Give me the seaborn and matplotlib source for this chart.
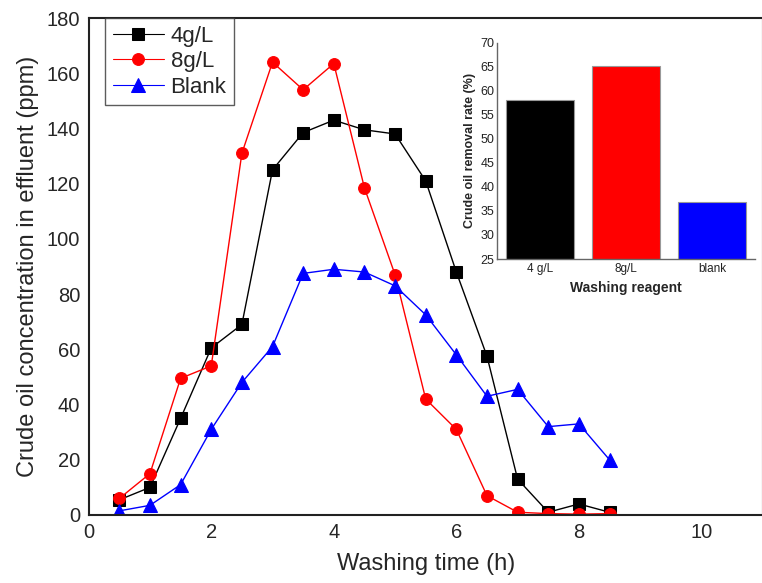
import numpy as np
import pandas as pd
import matplotlib
matplotlib.use("Agg")
import matplotlib.pyplot as plt
import seaborn as sns

# ---- data ----
time_h = [0.5, 1, 1.5, 2, 2.5, 3, 3.5, 4, 4.5, 5, 5.5, 6, 6.5, 7, 7.5, 8, 8.5]
conc_4gL = [5.5, 10, 35, 60.5, 69, 125, 138.5, 143, 139.5, 138, 121, 88, 57.5, 13, 1, 4, 1]
conc_8gL = [6, 15, 49.5, 54, 131, 164, 154, 163.5, 118.5, 87, 42, 31, 7, 1, 0.5, 0.3, 0.5]
conc_blank = [1.5, 3.5, 11, 31, 48, 61, 87.5, 89, 88, 83, 72.5, 58, 43, 45.5, 32, 33, 20]
series_names = ["4g/L", "8g/L", "Blank"]

reagents = ["4 g/L", "8g/L", "blank"]
removal_rate = [58.0, 65.2, 36.8]

sns.set_theme(style="white")
plt.rcParams['font.family'] = ['Liberation Sans', 'DejaVu Sans']

fig = plt.figure(figsize=(7.62, 5.83), dpi=100)
W, H = 762, 583
ax = fig.add_axes([88.7 / W, (H - 515) / H, 674 / W, 497 / H])

colors = ["black", "red", "blue"]
markers = ["s", "o", "^"]
msizes = [8, 8.5, 10]
for name, vals, c, m, ms in zip(series_names, [conc_4gL, conc_8gL, conc_blank], colors, markers, msizes):
    df = pd.DataFrame({"t": time_h, "c": vals})
    sns.lineplot(data=df, x="t", y="c", ax=ax, color=c, marker=m, markersize=ms,
                 markeredgecolor=c, linewidth=1.0, label=name)

ax.set_xlim(0, 11)
ax.set_ylim(0, 180)
ax.set_xticks([0, 2, 4, 6, 8, 10])
ax.set_yticks(np.arange(0, 181, 20))
ax.tick_params(axis="both", labelsize=14.5, length=0, pad=6)
ax.set_xlabel("Washing time (h)", fontsize=17, labelpad=8)
ax.set_ylabel("Crude oil concentration in effluent (ppm)", fontsize=17, labelpad=6)
for s in ax.spines.values():
    s.set_color("#222222")
    s.set_linewidth(1.5)

leg = ax.legend(loc="upper left", bbox_to_anchor=((105 - 88.7) / 674, 1.0), fontsize=16,
                frameon=True, fancybox=False, edgecolor="#333333", handlelength=2.3,
                borderpad=0.35, labelspacing=0.2, handletextpad=0.3, borderaxespad=0)
leg.get_frame().set_linewidth(1.0)
for line in leg.get_lines():
    line.set_linewidth(0.8)

# ---- inset ----
ax2 = fig.add_axes([497 / W, (H - 259) / H, 258 / W, (259 - 42.7) / H])
bdf = pd.DataFrame({"reagent": reagents, "rate": removal_rate})
sns.barplot(data=bdf, x="reagent", y="rate", hue="reagent", palette=["black", "red", "blue"],
            ax=ax2, width=0.8, edgecolor="#999999", linewidth=0.8, legend=False, saturation=1)
ax2.set_ylim(25, 70)
ax2.set_xlim(-0.5, 2.5)
ax2.set_yticks(np.arange(25, 71, 5))
ax2.tick_params(axis="y", labelsize=9, length=0, pad=2, colors="#222222")
ax2.tick_params(axis="x", labelsize=8.5, length=0, pad=3, colors="#222222")
ax2.set_xlabel("Washing reagent", fontsize=10, fontweight="bold", labelpad=4)
ax2.set_ylabel("Crude oil removal rate (%)", fontsize=9, fontweight="bold", labelpad=3)
ax2.spines["top"].set_visible(False)
ax2.spines["right"].set_visible(False)
for s in ["left", "bottom"]:
    ax2.spines[s].set_color("#666666")
    ax2.spines[s].set_linewidth(1.0)
ax2.patch.set_alpha(0)

fig.savefig("out.png", dpi=100)
